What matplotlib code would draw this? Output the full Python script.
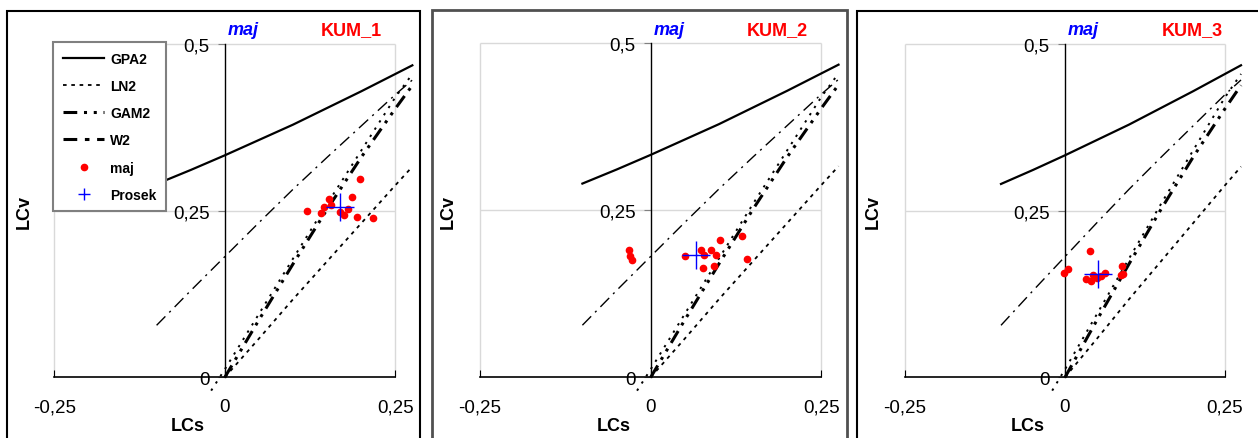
import numpy as np
import matplotlib
matplotlib.use("Agg")
import matplotlib.pyplot as plt
from matplotlib.lines import Line2D
from matplotlib.patches import Rectangle

plt.rcParams['font.family'] = ['Liberation Sans', 'DejaVu Sans']

# teoretske krivulje LCs - LCv (odcitano s slike)
gpa2_x = [-0.1, -0.05, 0.0, 0.05, 0.1, 0.15, 0.2, 0.25, 0.275]
gpa2_y = [0.290, 0.311, 0.333, 0.356, 0.379, 0.404, 0.429, 0.455, 0.468]
ln2_x = [0.0, 0.05, 0.1, 0.15, 0.2, 0.25, 0.275]
ln2_y = [0.0, 0.058, 0.117, 0.174, 0.231, 0.288, 0.316]
gam2_x = [0.0, 0.05, 0.1, 0.15, 0.2, 0.25, 0.275]
gam2_y = [0.0, 0.086, 0.170, 0.252, 0.330, 0.403, 0.438]
w2_x = [-0.1, -0.05, 0.0, 0.05, 0.1, 0.15, 0.2, 0.25, 0.275]
w2_y = [0.078, 0.130, 0.181, 0.232, 0.282, 0.330, 0.377, 0.424, 0.446]
dot2_x = [-0.02, 0.0, 0.05, 0.1, 0.15, 0.2, 0.25, 0.275]
dot2_y = [-0.02, 0.012, 0.095, 0.178, 0.260, 0.340, 0.420, 0.455]

# merjene postaje - maj
kum1_lcs = [0.121, 0.141, 0.146, 0.153, 0.155, 0.169, 0.175, 0.181, 0.186, 0.194, 0.198, 0.218]
kum1_lcv = [0.249, 0.247, 0.256, 0.268, 0.259, 0.248, 0.244, 0.252, 0.270, 0.241, 0.297, 0.239]
kum1_prosek = [0.169, 0.255]
kum2_lcs = [-0.032, -0.030, -0.028, 0.050, 0.073, 0.078, 0.076, 0.088, 0.096, 0.093, 0.102, 0.133, 0.141]
kum2_lcv = [0.190, 0.181, 0.176, 0.182, 0.190, 0.183, 0.164, 0.190, 0.183, 0.166, 0.206, 0.212, 0.177]
kum2_prosek = [0.066, 0.183]
kum3_lcs = [-0.001, 0.005, 0.039, 0.033, 0.041, 0.044, 0.050, 0.056, 0.063, 0.089, 0.087, 0.090]
kum3_lcv = [0.156, 0.162, 0.189, 0.147, 0.144, 0.153, 0.149, 0.152, 0.156, 0.167, 0.154, 0.155]
kum3_prosek = [0.052, 0.1545]

xticks = [-0.25, 0.0, 0.25]
xticklabels = ['-0,25', '0', '0,25']
yticks = [0.0, 0.25, 0.5]
yticklabels = ['0', '0,25', '0,5']
names = ['KUM_1', 'KUM_2', 'KUM_3']
month = 'maj'

W, H = 1258, 439
fig = plt.figure(figsize=(W / 100, H / 100), dpi=100)

# postavitev v pikslih: izhodisce x, px/enoto x, izhodisce y, px/enoto y, okvir
panels = [
    dict(x0=224.8, sx=682, y0=378.3, sy=666.6, frame=(7.3, 12.3, 419.5), fw=1.5, fc='black'),
    dict(x0=650.7, sx=683, y0=378.3, sy=668.0, frame=(431.7, 10.7, 846.5), fw=2.0, fc='#505050'),
    dict(x0=1065.0, sx=640, y0=378.3, sy=666.7, frame=(856.7, 12.3, 1270), fw=1.5, fc='black'),
]
data = [(kum1_lcs, kum1_lcv, kum1_prosek), (kum2_lcs, kum2_lcv, kum2_prosek),
        (kum3_lcs, kum3_lcv, kum3_prosek)]

xlim = (-0.27, 0.29)
ylim = (-0.03, 0.52)

ls_ln2 = (0, (2.0, 2.6))
ls_gam2 = (0, (4.5, 2.2, 1.0, 2.2, 1.0, 2.2))
ls_w2 = (0, (9.0, 4.0, 1.5, 4.0))
ls_dot2 = (0, (1.2, 3.2))


def ftext(x, y, s, **kw):
    fig.text(x / W, 1 - y / H, s, **kw)


for i, p in enumerate(panels):
    fl, ft, fr = p['frame']
    fig.patches.append(Rectangle((fl / W, 1 - (H + 20) / H), (fr - fl) / W, (H + 20 - ft) / H,
                                 transform=fig.transFigure, fill=False, lw=p['fw'],
                                 edgecolor=p['fc'], clip_on=False))
    left = p['x0'] + xlim[0] * p['sx']
    right = p['x0'] + xlim[1] * p['sx']
    top = p['y0'] - ylim[1] * p['sy']
    bot = p['y0'] - ylim[0] * p['sy']
    ax = fig.add_axes([left / W, 1 - bot / H, (right - left) / W, (bot - top) / H])
    ax.set_xlim(xlim)
    ax.set_ylim(ylim)
    ax.patch.set_alpha(0)

    # mreza (robovi risalne povrsine)
    ax.hlines(yticks[1:], xticks[0], xticks[-1], color='#d9d9d9', lw=1, zorder=0)
    ax.vlines([xticks[0], xticks[-1]], yticks[0], yticks[-1], color='#d9d9d9', lw=1, zorder=0)

    for s in ['top', 'right']:
        ax.spines[s].set_visible(False)
    ax.spines['left'].set_position(('data', 0))
    ax.spines['left'].set_bounds(yticks[0], yticks[-1])
    ax.spines['bottom'].set_position(('data', 0))
    ax.spines['bottom'].set_bounds(xticks[0], xticks[-1])
    ax.spines['left'].set_linewidth(1.0)
    ax.spines['bottom'].set_linewidth(1.2)

    ax.set_xticks(xticks)
    ax.set_xticklabels(xticklabels)
    ax.set_yticks(yticks)
    ax.set_yticklabels(yticklabels)
    ax.tick_params(axis='x', direction='in', length=5, pad=15, labelsize=13.5)
    ax.tick_params(axis='y', direction='out', length=5, pad=6, labelsize=13.5, color='#808080')

    ax.plot(gpa2_x, gpa2_y, color='black', lw=1.6, ls='-', clip_on=False)
    ax.plot(ln2_x, ln2_y, color='black', lw=1.3, ls=ls_ln2, clip_on=False)
    ax.plot(gam2_x, gam2_y, color='black', lw=2.2, ls=ls_gam2, clip_on=False)
    ax.plot(w2_x, w2_y, color='black', lw=1.0, ls=ls_w2, clip_on=False)
    ax.plot(dot2_x, dot2_y, color='black', lw=1.4, ls=ls_dot2, clip_on=False)

    lcs, lcv, pr = data[i]
    ax.plot(lcs, lcv, 'o', color='red', ms=4.5, mec='red', ls='none', zorder=5)
    ax.plot(pr[0], pr[1], '+', color='blue', ms=20, mew=1.0, zorder=6)

    x0 = p['x0']
    ftext(x0 + 18, 30.5, month, color='blue', fontsize=13, fontweight='bold', style='italic',
          ha='center', va='center')
    ftext(x0 + 127, 30.5, names[i], color='red', fontsize=13, fontweight='bold',
          ha='center', va='center')
    ftext(p['frame'][0] + 17, 212, 'LCv', rotation=90, fontsize=13, fontweight='bold',
          ha='center', va='center')
    ftext(x0 - 37, 427, 'LCs', fontsize=13, fontweight='bold', ha='center', va='center')

    if i == 0:
        handles = [
            Line2D([], [], color='black', lw=1.6, ls='-'),
            Line2D([], [], color='black', lw=1.3, ls=ls_ln2),
            Line2D([], [], color='black', lw=2.2, ls=ls_gam2),
            Line2D([], [], color='black', lw=2.2, ls=(0, (4.5, 2.5, 1.5, 2.5))),
            Line2D([], [], color='red', marker='o', ms=4.5, ls='none'),
            Line2D([], [], color='blue', marker='+', ms=9, mew=1.0, ls='none'),
        ]
        labels = ['GPA2', 'LN2', 'GAM2', 'W2', 'maj', 'Prosek']
        leg = ax.legend(handles, labels, loc='upper left', bbox_to_anchor=(53 / W, 1 - 43 / H),
                        bbox_transform=fig.transFigure, borderaxespad=0, frameon=True,
                        fancybox=False, edgecolor='#808080', framealpha=1,
                        prop=dict(weight='bold', size=10), handlelength=3.0,
                        handletextpad=0.4, labelspacing=0.95, borderpad=0.7)
        leg.get_frame().set_linewidth(1.5)
        leg.set_zorder(10)

fig.savefig('out.png', dpi=100)
